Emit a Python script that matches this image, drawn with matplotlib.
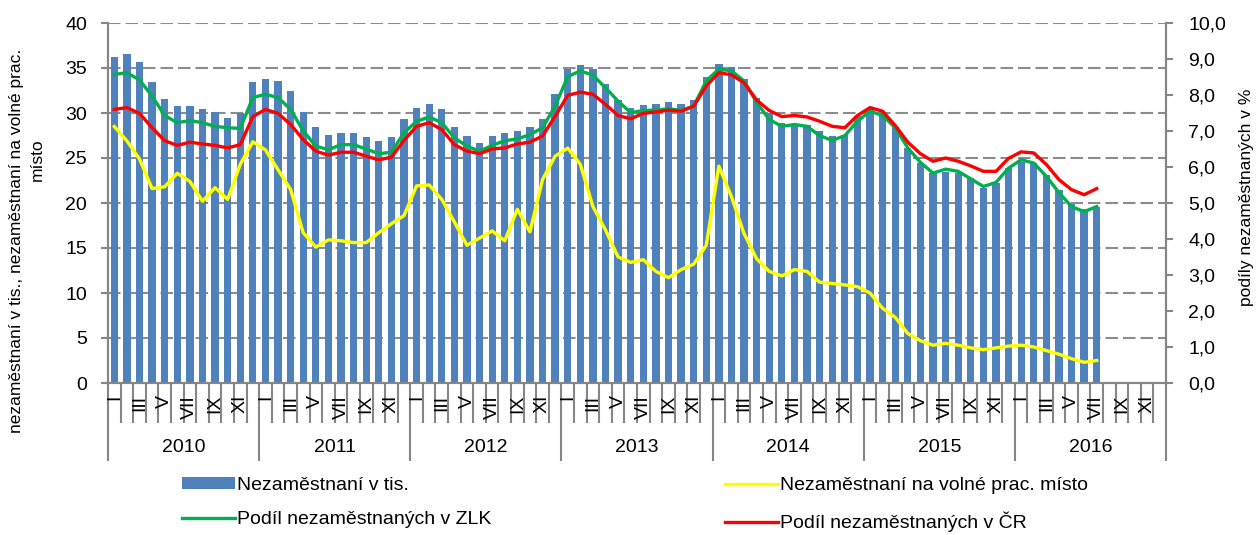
import matplotlib
matplotlib.use("Agg")
import matplotlib.pyplot as plt
from matplotlib.patches import Patch
from matplotlib.lines import Line2D
import numpy as np

plt.rcParams['font.family'] = ['Liberation Sans', 'DejaVu Sans']

years = ['2010', '2011', '2012', '2013', '2014', '2015', '2016']
month_labels = ['I', '', 'III', '', 'V', '', 'VII', '', 'IX', '', 'XI', '']

unemployed = [
    36.2, 36.6, 35.7, 33.4, 31.6, 30.8, 30.8, 30.4, 30.1, 29.5, 30.0, 33.4,
    33.8, 33.6, 32.5, 30.1, 28.4, 27.6, 27.8, 27.8, 27.3, 26.9, 27.3, 29.3,
    30.6, 31.0, 30.4, 28.5, 27.4, 26.7, 27.4, 27.8, 28.0, 28.5, 29.3, 32.1,
    34.9, 35.3, 34.9, 33.2, 31.4, 30.6, 30.9, 31.0, 31.2, 31.0, 31.4, 34.0,
    35.5, 35.1, 33.8, 31.7, 30.0, 28.9, 28.8, 28.7, 28.0, 27.4, 27.6, 29.7,
    30.5, 30.0, 28.5, 26.1, 24.4, 23.3, 23.5, 23.3, 22.8, 21.7, 22.2, 23.9,
    24.6, 24.4, 23.1, 21.5, 19.9, 19.3, 19.6,
]
per_vacancy = [
    28.5, 26.9, 24.9, 21.6, 21.8, 23.3, 22.4, 20.2, 21.7, 20.4, 24.3, 26.8,
    25.9, 23.7, 21.5, 16.7, 15.1, 15.9, 15.8, 15.6, 15.6, 16.7, 17.7, 18.6,
    21.9, 22.0, 20.4, 17.9, 15.3, 16.1, 16.9, 15.8, 19.3, 16.8, 22.6, 25.2,
    26.1, 24.3, 19.6, 17.0, 14.0, 13.4, 13.7, 12.4, 11.7, 12.6, 13.2, 15.3,
    24.1, 20.7, 16.6, 13.8, 12.4, 11.9, 12.6, 12.4, 11.2, 11.05, 10.9, 10.7,
    10.0, 8.3, 7.3, 5.5, 4.7, 4.2, 4.4, 4.2, 3.9, 3.7, 3.9, 4.1,
    4.2, 4.0, 3.6, 3.2, 2.7, 2.3, 2.5,
]
share_zlk = [
    8.57, 8.62, 8.42, 7.97, 7.43, 7.23, 7.29, 7.23, 7.13, 7.09, 7.07, 7.93,
    8.02, 7.93, 7.60, 7.00, 6.58, 6.48, 6.62, 6.62, 6.50, 6.37, 6.41, 6.95,
    7.27, 7.39, 7.23, 6.81, 6.58, 6.44, 6.60, 6.73, 6.78, 6.90, 7.09, 7.69,
    8.51, 8.67, 8.55, 8.20, 7.83, 7.51, 7.57, 7.58, 7.62, 7.57, 7.69, 8.39,
    8.72, 8.67, 8.39, 7.79, 7.32, 7.13, 7.18, 7.13, 6.87, 6.74, 6.87, 7.27,
    7.55, 7.43, 7.09, 6.53, 6.13, 5.83, 5.94, 5.88, 5.67, 5.46, 5.57, 5.97,
    6.20, 6.11, 5.74, 5.29, 4.90, 4.76, 4.90,
]
share_cr = [
    7.60, 7.65, 7.49, 7.09, 6.73, 6.60, 6.69, 6.64, 6.60, 6.53, 6.62, 7.40,
    7.60, 7.49, 7.18, 6.76, 6.44, 6.33, 6.41, 6.41, 6.30, 6.20, 6.27, 6.74,
    7.13, 7.23, 7.04, 6.62, 6.44, 6.37, 6.50, 6.53, 6.64, 6.69, 6.86, 7.41,
    7.99, 8.08, 8.02, 7.74, 7.43, 7.34, 7.49, 7.53, 7.58, 7.55, 7.69, 8.25,
    8.62, 8.56, 8.34, 7.86, 7.57, 7.40, 7.43, 7.39, 7.27, 7.13, 7.09, 7.43,
    7.65, 7.55, 7.15, 6.69, 6.37, 6.16, 6.25, 6.16, 6.03, 5.88, 5.88, 6.24,
    6.42, 6.39, 6.07, 5.65, 5.37, 5.23, 5.40,
]

BAR = '#4F81BD'
YEL = '#FFFF00'
GRN = '#00B050'
RED = '#FF0000'
AXC = '#868686'
GRID = '#8C8C8C'
FS = 14

n_total = len(years) * 12
x = np.arange(len(unemployed))

fig = plt.figure(figsize=(12.59, 5.35), dpi=100)
ax = fig.add_axes([108 / 1259, 1 - 383 / 535, (1166 - 108) / 1259, 360 / 535])
ax2 = ax.twinx()

ax.set_zorder(1)
ax2.set_zorder(2)
ax.patch.set_visible(False)
ax2.patch.set_visible(False)

ax.bar(x, unemployed, width=0.58, color=BAR, zorder=2)
ax.plot(x, per_vacancy, color=YEL, lw=2.4, zorder=3, solid_joinstyle='round')
ax2.plot(x, share_zlk, color=GRN, lw=2.4, zorder=3, solid_joinstyle='round')
ax2.plot(x, share_cr, color=RED, lw=2.4, zorder=4, solid_joinstyle='round')

ax.set_xlim(-0.5, n_total - 0.5)
ax.set_ylim(0, 40)
ax2.set_ylim(0, 10)
ax.set_yticks(np.arange(0, 41, 5))
ax2.set_yticks(np.arange(0, 10.1, 1))
ax2.set_yticklabels([f"{v:.1f}".replace('.', ',') for v in np.arange(0, 10.1, 1)])

for y in np.arange(5, 41, 5):
    ax.axhline(y, color=GRID, lw=1.5, ls=(0, (6, 2.4)), zorder=1)

for a in (ax, ax2):
    a.spines['top'].set_visible(False)
    for s in ('left', 'right', 'bottom'):
        a.spines[s].set_color(AXC)
        a.spines[s].set_linewidth(1.5)

ax.tick_params(axis='y', direction='out', length=5, width=1.5, color=AXC,
               labelsize=FS, pad=10)
ax2.tick_params(axis='y', direction='out', length=5, width=1.5, color=AXC,
                labelsize=FS, pad=11)

# x axis: month boundaries (minor), year boundaries (major)
ax.set_xticks(np.arange(-0.5, n_total, 12))
ax.set_xticklabels([])
ax.set_xticks(np.arange(-0.5, n_total, 1), minor=True)
ax.tick_params(axis='x', which='major', direction='out', length=56, width=1.5, color=AXC)
ax.tick_params(axis='x', which='minor', direction='out', length=29, width=1.5, color=AXC)

xt = ax.get_xaxis_transform()
for i in range(n_total):
    lab = month_labels[i % 12]
    if lab:
        ax.text(i, -0.033, lab, transform=xt, rotation=90, ha='center', va='top',
                fontsize=FS, clip_on=False)
for k, yr in enumerate(years):
    ax.text(k * 12 + 5.5, -0.18, yr, transform=xt, ha='center', va='center',
            fontsize=FS, clip_on=False)

fig.text(17 / 1259, 1 - 241 / 535,
         'nezaměstnaní v tis., nezaměstnaní na volné prac.',
         rotation=90, ha='center', va='center', fontsize=12.5)
fig.text(37 / 1259, 1 - 160 / 535, 'místo',
         rotation=90, ha='center', va='center', fontsize=12.5)
fig.text(1247 / 1259, 1 - 197 / 535, 'podíly nezaměstnaných v %',
         rotation=90, ha='center', va='center', fontsize=12.5)

h_bar = Patch(facecolor=BAR, edgecolor='none')
h_yel = Line2D([], [], color=YEL, lw=2.4)
h_grn = Line2D([], [], color=GRN, lw=2.4)
h_red = Line2D([], [], color=RED, lw=2.4)

common = dict(frameon=False, fontsize=FS, loc='upper left', borderpad=0,
              borderaxespad=0, handlelength=2.7, handletextpad=0.15,
              labelspacing=0.9, handleheight=0.55)
fig.legend([h_bar, h_grn], ['Nezaměstnaní v tis.', 'Podíl nezaměstnaných v ZLK'],
           bbox_to_anchor=(182 / 1259, 1 - 477 / 535), **common)
fig.legend([h_yel, h_red], ['Nezaměstnaní na volné prac. místo', 'Podíl nezaměstnaných v ČR'],
           bbox_to_anchor=(725 / 1259, 1 - 477 / 535), **common)

fig.savefig('out.png', dpi=100)
